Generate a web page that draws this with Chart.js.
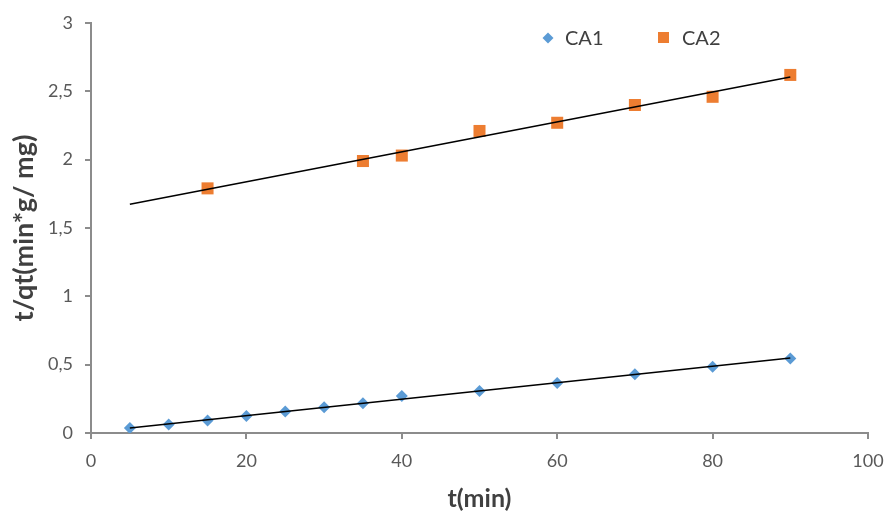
<!DOCTYPE html>
<html>
<head>
<meta charset="utf-8">
<script src="https://cdn.jsdelivr.net/npm/chart.js@4.4.0/dist/chart.umd.min.js"></script>
<style>
html,body{margin:0;padding:0;background:#fff;}
#wrap{width:889px;height:512px;position:relative;}
</style>
</head>
<body>
<div id="wrap"><canvas id="c" width="889" height="512"></canvas></div>
<script>
// Data
const ca1Time = [5, 10, 15, 20, 25, 30, 35, 40, 50, 60, 70, 80, 90];
const ca1Values = [0.037, 0.062, 0.092, 0.125, 0.157, 0.188, 0.218, 0.27, 0.307, 0.365, 0.43, 0.485, 0.545];
const ca2Time = [15, 35, 40, 50, 60, 70, 80, 90];
const ca2Values = [1.79, 1.99, 2.03, 2.21, 2.27, 2.40, 2.46, 2.62];
const trendRange = [5, 90];
const xTicks = [0, 20, 40, 60, 80, 100];
const yTicks = [0, 0.5, 1, 1.5, 2, 2.5, 3];
const seriesNames = ['CA1', 'CA2'];

function linFit(xs, ys) {
  const n = xs.length;
  const mx = xs.reduce((a, b) => a + b, 0) / n;
  const my = ys.reduce((a, b) => a + b, 0) / n;
  let sxy = 0, sxx = 0;
  for (let i = 0; i < n; i++) { sxy += (xs[i] - mx) * (ys[i] - my); sxx += (xs[i] - mx) ** 2; }
  const b = sxy / sxx, a = my - b * mx;
  return trendRange.map(x => ({ x: x, y: a + b * x }));
}
const pts = (xs, ys) => xs.map((x, i) => ({ x: x, y: ys[i] }));

const BLUE = '#5B9BD5', ORANGE = '#ED7D31', AXIS = '#8c8c8c', TXT = '#595959';
const FONT = "Lato, 'Open Sans', 'DejaVu Sans', sans-serif";

const legendPlugin = {
  id: 'customLegend',
  afterDraw(chart) {
    const ctx = chart.ctx;
    ctx.save();
    ctx.font = '20px ' + FONT;
    ctx.textBaseline = 'middle';
    const y = 38;
    ctx.fillStyle = BLUE;
    ctx.beginPath();
    ctx.moveTo(548, y - 5.5); ctx.lineTo(553.5, y); ctx.lineTo(548, y + 5.5); ctx.lineTo(542.5, y); ctx.closePath();
    ctx.fill();
    ctx.fillStyle = '#404040';
    ctx.fillText(seriesNames[0], 565, y + 1);
    ctx.fillStyle = ORANGE;
    ctx.fillRect(658, y - 6, 11, 11);
    ctx.fillStyle = '#404040';
    ctx.fillText(seriesNames[1], 682, y + 1);
    ctx.restore();
  }
};

new Chart(document.getElementById('c'), {
  type: 'scatter',
  data: {
    datasets: [
      { label: 'CA1 trend', data: linFit(ca1Time, ca1Values), showLine: true, borderColor: '#000', borderWidth: 1.6, pointRadius: 0, order: 1 },
      { label: 'CA2 trend', data: linFit(ca2Time, ca2Values), showLine: true, borderColor: '#000', borderWidth: 1.6, pointRadius: 0, order: 1 },
      { label: seriesNames[0], data: pts(ca1Time, ca1Values), pointStyle: 'rectRot', pointRadius: 6, backgroundColor: BLUE, borderColor: BLUE, borderWidth: 0, order: 2 },
      { label: seriesNames[1], data: pts(ca2Time, ca2Values), pointStyle: 'rect', pointRadius: 8.5, backgroundColor: ORANGE, borderColor: ORANGE, borderWidth: 0, order: 2 }
    ]
  },
  options: {
    responsive: false,
    animation: false,
    devicePixelRatio: 1,
    layout: { padding: { left: 0, right: 21, top: 23, bottom: 0 } },
    plugins: { legend: { display: false }, tooltip: { enabled: false } },
    scales: {
      x: {
        type: 'linear', min: 0, max: 100,
        afterBuildTicks: s => { s.ticks = xTicks.map(v => ({ value: v })); },
        afterFit: s => { s.height = 79; s.paddingRight = 0; s.paddingLeft = 0; },
        border: { color: AXIS, width: 2 },
        grid: { drawOnChartArea: false, color: AXIS, tickLength: 6, lineWidth: 2 },
        ticks: { color: TXT, font: { size: 18, family: FONT }, padding: 11 },
        title: { display: true, text: 't(min)', color: '#404040', font: { size: 25, weight: 'bold', family: FONT, lineHeight: 1 }, padding: { top: 2, bottom: 1 } }
      },
      y: {
        type: 'linear', min: 0, max: 3,
        afterBuildTicks: s => { s.ticks = yTicks.map(v => ({ value: v })); },
        afterFit: s => { s.width = 91; s.paddingTop = 0; s.paddingBottom = 0; },
        border: { color: AXIS, width: 2 },
        grid: { drawOnChartArea: false, color: AXIS, tickLength: 6, lineWidth: 2 },
        ticks: { color: TXT, font: { size: 18, family: FONT }, padding: 12, callback: v => String(v).replace('.', ',') },
        title: { display: true, text: 't/qt(min*g/ mg)', color: '#404040', font: { size: 27, weight: 'bold', family: FONT, lineHeight: 1 }, padding: { top: 11, bottom: 2 } }
      }
    }
  },
  plugins: [legendPlugin]
});
</script>
</body>
</html>
